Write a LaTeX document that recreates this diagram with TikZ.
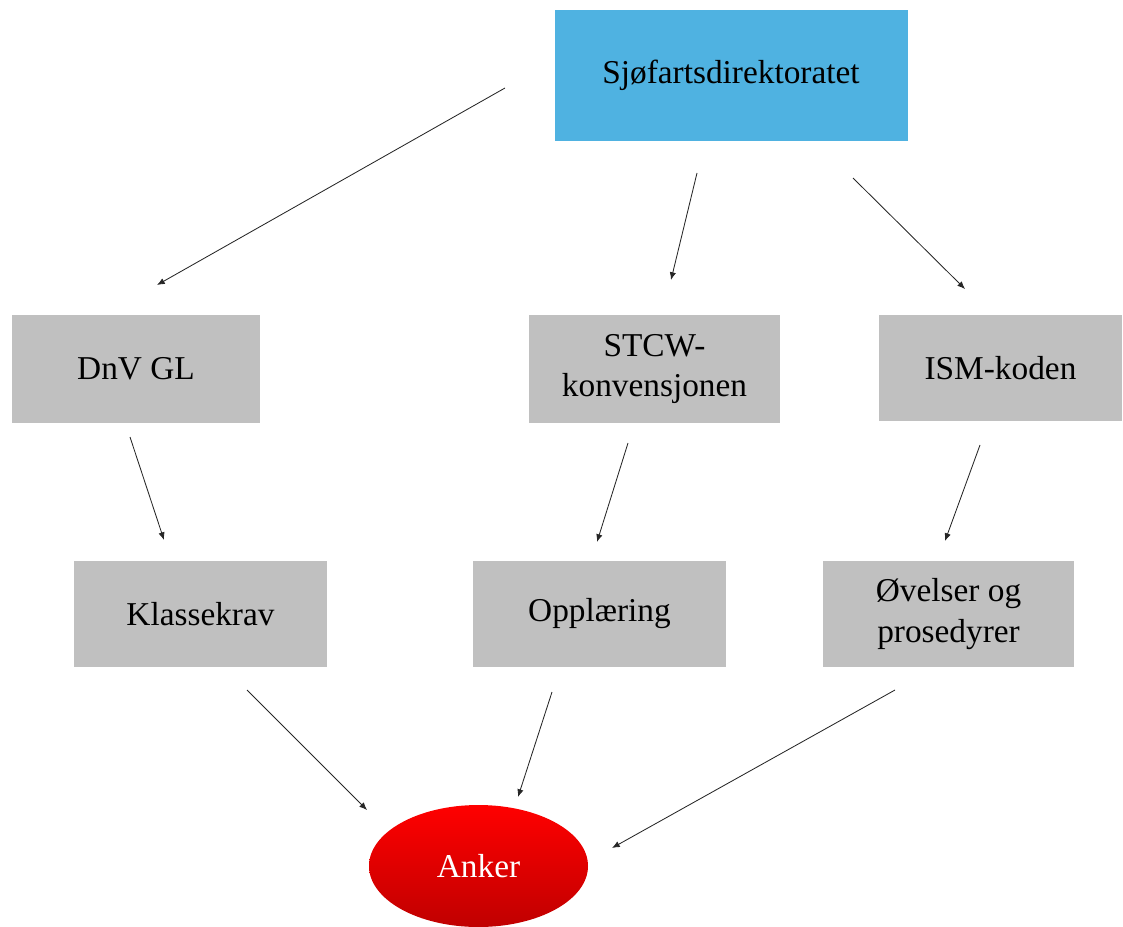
\documentclass[tikz,border=0pt]{standalone}
\usepackage{fontspec}
\setmainfont{Liberation Serif}
\usetikzlibrary{arrows.meta,shapes.geometric,shadings}
\definecolor{topblue}{HTML}{4FB2E1}
\definecolor{boxgray}{HTML}{C0C0C0}
\definecolor{ankred}{HTML}{FF0000}
\definecolor{ankdark}{HTML}{C00000}
\tikzset{
  graybox/.style={
    fill=boxgray, inner sep=0pt, align=center,
    font=\fontsize{23.7}{28.5}\selectfont,
  },
  flowarrow/.style={
    draw=black!85, line width=0.6pt, -{Latex[length=5.5pt,width=4.5pt]},
  },
}

\begin{document}
\begin{tikzpicture}[x=0.025cm,y=-0.025cm]
    % frame of the page
    \useasboundingbox (0,0) rectangle (1123,926);

    % boxes
    \node (sjo) [graybox, fill=topblue, minimum width=353*0.025cm, minimum height=131*0.025cm]
        at (731,75.5) {Sjøfartsdirektoratet};
    \node (dnv) [graybox, minimum width=248*0.025cm, minimum height=108*0.025cm]
        at (136,369) {DnV GL};
    \node (stcw) [graybox, minimum width=251*0.025cm, minimum height=108*0.025cm]
        at (654.5,369) {STCW-\\konvensjonen};
    \node (ism) [graybox, minimum width=243*0.025cm, minimum height=106*0.025cm]
        at (1000.5,368) {ISM-koden};
    \node (klasse) [graybox, minimum width=253*0.025cm, minimum height=106*0.025cm]
        at (200.5,614) {Klassekrav};
    \node (oppl) [graybox, minimum width=253*0.025cm, minimum height=106*0.025cm]
        at (599.5,614) {Opplæring};
    \node (ovel) [graybox, minimum width=251*0.025cm, minimum height=106*0.025cm]
        at (948.5,614) {Øvelser og\\prosedyrer};
    \node (anker) [ellipse, inner sep=0pt, top color=ankred, bottom color=ankdark,
        minimum width=219*0.025cm, minimum height=122*0.025cm,
        text=white, font=\fontsize{23.7}{28.5}\selectfont]
        at (478.5,866) {Anker};

    % arrow ends (the arrows stand free of the boxes)
    \coordinate (a1s) at (505,88);  \coordinate (a1e) at (157,285);
    \coordinate (a2s) at (697,173); \coordinate (a2e) at (671,280);
    \coordinate (a3s) at (853,178); \coordinate (a3e) at (965,289);
    \coordinate (b1s) at (130,437); \coordinate (b1e) at (164,540);
    \coordinate (b2s) at (628,443); \coordinate (b2e) at (597,542);
    \coordinate (b3s) at (980,445); \coordinate (b3e) at (945,541);
    \coordinate (c1s) at (247,690); \coordinate (c1e) at (367,810);
    \coordinate (c2s) at (552,692); \coordinate (c2e) at (518,797);
    \coordinate (c3s) at (895,690); \coordinate (c3e) at (612,848);

    % arrows
    \foreach \r in {a,b,c}
        \foreach \i in {1,2,3}
            \draw [flowarrow] (\r\i s) -- (\r\i e);
\end{tikzpicture}
\end{document}
